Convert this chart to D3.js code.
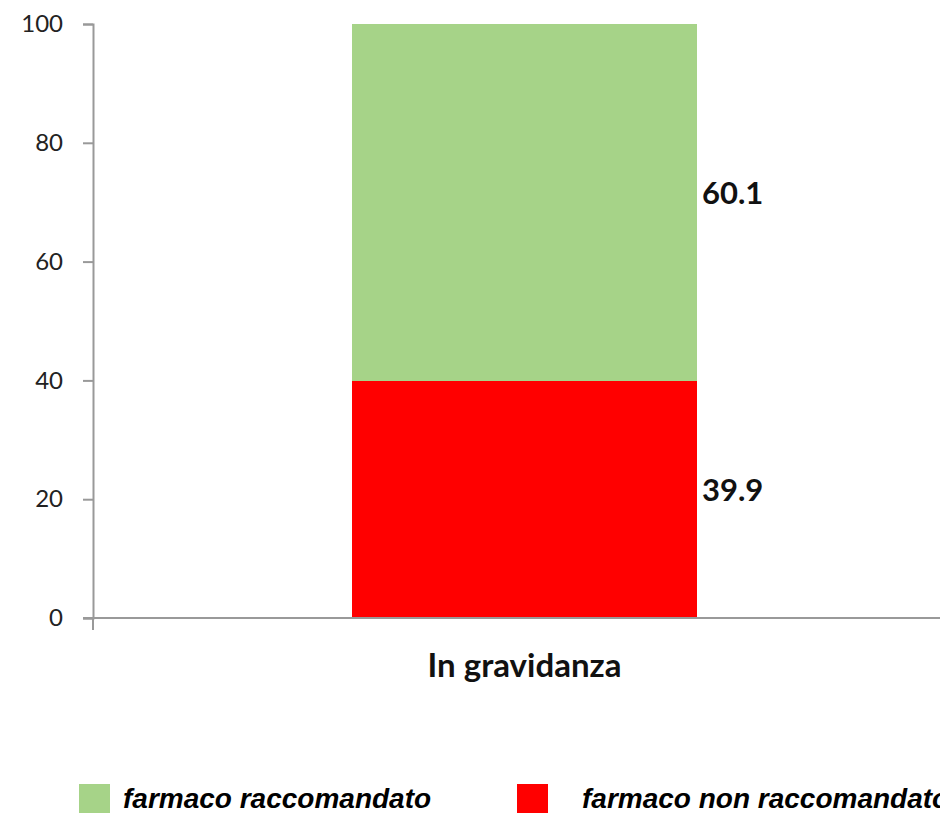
<!DOCTYPE html>
<html>
<head>
<meta charset="utf-8">
<script src="https://cdn.jsdelivr.net/npm/d3@7"></script>
<style>
    body { margin: 0; background: #fff; }
    svg { display: block; }
</style>
</head>
<body>
<div id="grafico"></div>
<script>
// dati del grafico
var categorie = ['In gravidanza'];
var serie = ['farmaco non raccomandato', 'farmaco raccomandato'];
var valoriNonRaccomandato = [39.9];
var valoriRaccomandato = [60.1];
var tickY = [0, 20, 40, 60, 80, 100];
var colori = { 'farmaco raccomandato': '#a6d388', 'farmaco non raccomandato': '#ff0000' };
var legenda = ['farmaco raccomandato', 'farmaco non raccomandato'];

const width = 940, height = 813;
const margin = { top: 24, left: 93, bottom: 195 };
const plotRight = 956; // l'area del grafico esce un po' dal bordo destro
const barW = 345;

// tabella per lo stack
var tabella = categorie.map(function (c, i) {
    return { cat: c, 'farmaco non raccomandato': valoriNonRaccomandato[i], 'farmaco raccomandato': valoriRaccomandato[i] };
});
var stacked = d3.stack().keys(serie)(tabella);

var svg = d3.select('#grafico')
    .append('svg')
    .attr('width', width)
    .attr('height', height);

var x = d3.scaleBand()
    .domain(categorie)
    .range([margin.left, plotRight])
    .padding(0);

var y = d3.scaleLinear()
    .domain([0, 100])
    .range([height - margin.bottom, margin.top]);

// barre impilate
svg.append('g')
    .selectAll('g')
    .data(stacked)
    .join('g')
    .attr('fill', d => colori[d.key])
    .selectAll('rect')
    .data(d => d)
    .join('rect')
    .attr('x', d => x(d.data.cat) + x.bandwidth() / 2 - barW / 2)
    .attr('width', barW)
    .attr('y', d => y(d[1]))
    .attr('height', d => y(d[0]) - y(d[1]));

// etichette dei valori
svg.append('g')
    .selectAll('g')
    .data(stacked)
    .join('g')
    .selectAll('text')
    .data(d => d)
    .join('text')
    .attr('x', d => x(d.data.cat) + x.bandwidth() / 2 + barW / 2 + 5)
    .attr('y', d => (y(d[0]) + y(d[1])) / 2 - 9)
    .attr('dy', '0.35em')
    .attr('font-family', 'Lato, "Open Sans", sans-serif')
    .attr('font-weight', 'bold')
    .attr('font-size', 31)
    .attr('fill', '#111')
    .text(d => d3.format('.1f')(d[1] - d[0]));

// asse y
var assey = svg.append('g')
    .attr('transform', `translate(${margin.left},0)`)
    .call(d3.axisLeft(y).tickValues(tickY).tickSize(10).tickPadding(20).tickFormat(d3.format('d')));
assey.select('.domain').attr('stroke', '#999').attr('stroke-width', 2);
assey.selectAll('.tick line').attr('stroke', '#999').attr('stroke-width', 2);
assey.selectAll('.tick text')
    .attr('font-family', 'Lato, "Open Sans", sans-serif')
    .attr('font-size', 24)
    .attr('fill', '#222');

// asse x
var assex = svg.append('g')
    .attr('transform', `translate(0,${y(0)})`)
    .call(d3.axisBottom(x).tickSize(0).tickPadding(36));
assex.select('.domain').attr('stroke', '#999').attr('stroke-width', 2).attr('d', `M${margin.left - 10},0H${plotRight}`);
assex.selectAll('.tick text')
    .attr('font-family', 'Lato, "Open Sans", sans-serif')
    .attr('font-weight', 'bold')
    .attr('font-size', 33)
    .attr('fill', '#111');
// trattino verticale all'inizio dell'asse x
assex.append('line')
    .attr('x1', margin.left).attr('x2', margin.left)
    .attr('y1', 0).attr('y2', 12)
    .attr('stroke', '#999').attr('stroke-width', 2);

// legenda
var legX = d3.scalePoint().domain(legenda).range([79, 517]);
var leg = svg.append('g')
    .selectAll('g')
    .data(legenda)
    .join('g')
    .attr('transform', d => `translate(${legX(d)},784)`);
leg.append('rect')
    .attr('width', 31)
    .attr('height', 30)
    .attr('fill', d => colori[d]);
leg.append('text')
    .attr('x', (d, i) => i == 0 ? 44 : 65)
    .attr('y', 24)
    .attr('font-family', '"Liberation Sans", Arial, sans-serif')
    .attr('font-weight', 'bold')
    .attr('font-style', 'italic')
    .attr('font-size', 28)
    .attr('fill', '#000')
    .text(d => d);
</script>
</body>
</html>
